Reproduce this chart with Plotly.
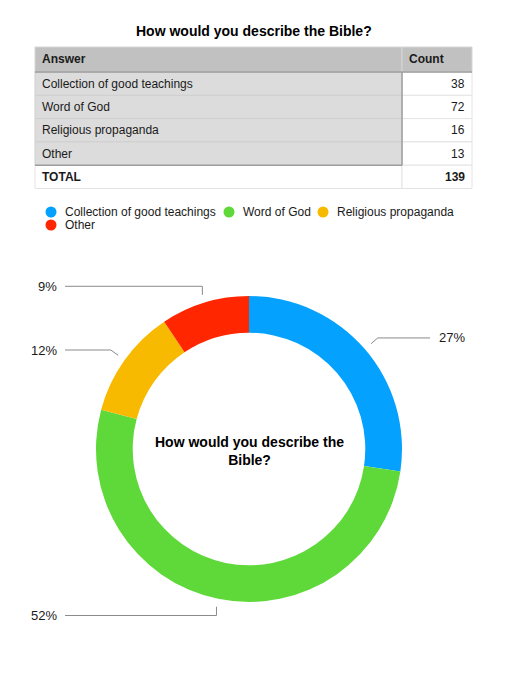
import math
import plotly.graph_objects as go

# ---- data ----
title = "How would you describe the Bible?"
answers = ["Collection of good teachings", "Word of God", "Religious propaganda", "Other"]
counts = [38, 72, 16, 13]
colors = ["#04a2fe", "#5fd93a", "#f8ba00", "#ff2600"]
total_label = "TOTAL"
header_labels = ["Answer", "Count"]

W, H = 510, 700
FONT = "Liberation Sans, Arial, Helvetica, sans-serif"
TXT = "#1a1a1a"

def px(x):
    return x / W

def py(y):
    return 1 - y / H

total = sum(counts)

fig = go.Figure()
shapes = []
annotations = []

def rect(x0, y0, x1, y1, fill, line_color="#d6d6d6", lw=1):
    shapes.append(dict(type="rect", xref="paper", yref="paper",
                       x0=px(x0), x1=px(x1), y0=py(y1), y1=py(y0),
                       fillcolor=fill, line=dict(color=line_color, width=lw), layer="below"))

def text(x, y, s, anchor="left", size=12, color=TXT, bold=False):
    if bold:
        s = "<b>" + s + "</b>"
    annotations.append(dict(x=px(x), y=py(y), xref="paper", yref="paper", text=s,
                            showarrow=False, xanchor=anchor, yanchor="middle",
                            font=dict(family=FONT, size=size, color=color)))

# ---- table (built from the data lists) ----
T_L, T_R, T_SPLIT, T_TOP = 35, 472, 402, 47
HEAD_H, ROW_H = 25, 23.3
rows = [(a, str(c), False) for a, c in zip(answers, counts)] + [(total_label, str(total), True)]

# header
rect(T_L, T_TOP, T_SPLIT, T_TOP + HEAD_H, "#c0c1c0")
rect(T_SPLIT, T_TOP, T_R, T_TOP + HEAD_H, "#c0c1c0")
text(T_L + 5, T_TOP + HEAD_H / 2, header_labels[0], bold=True)
text(T_SPLIT + 5, T_TOP + HEAD_H / 2, header_labels[1], bold=True)
for i, (lab, val, is_total) in enumerate(rows):
    y0 = T_TOP + HEAD_H + i * ROW_H
    y1 = y0 + ROW_H
    rect(T_L, y0, T_SPLIT, y1, "white" if is_total else "#dcdcdc",
         line_color="#e4e4e4" if is_total else "#cfcfcf")
    rect(T_SPLIT, y0, T_R, y1, "white", line_color="#e4e4e4")
    text(T_L + 5, (y0 + y1) / 2, lab, bold=is_total)
    text(T_R - 5, (y0 + y1) / 2, val, anchor="right", bold=is_total)

# darker separators of the header row / header column
sep = dict(color="#9c9c9c", width=1.5)
y_body = T_TOP + HEAD_H
y_tot = T_TOP + HEAD_H + ROW_H * len(answers)
shapes.append(dict(type="line", xref="paper", yref="paper",
                   x0=px(T_L), x1=px(T_R), y0=py(y_body), y1=py(y_body), line=sep))
shapes.append(dict(type="line", xref="paper", yref="paper",
                   x0=px(T_L), x1=px(T_SPLIT), y0=py(y_tot), y1=py(y_tot), line=sep))
shapes.append(dict(type="line", xref="paper", yref="paper",
                   x0=px(T_SPLIT), x1=px(T_SPLIT), y0=py(y_body), y1=py(y_tot), line=sep))

# ---- donut ----
cx, cy, R = 249, 449, 153
fig.add_trace(go.Pie(
    labels=answers,
    values=counts,
    marker=dict(colors=colors, line=dict(width=0)),
    sort=False,
    direction="clockwise",
    rotation=0,
    hole=0.76,
    textinfo="none",
    hoverinfo="label+percent",
    showlegend=False,
    domain=dict(x=[px(cx - R), px(cx + R)], y=[py(cy + R), py(cy - R)]),
))

# ---- legend (circles + labels) ----
leg_pos = [(51, 212), (229, 212), (323, 212), (51, 225)]
for (lx_, ly_), a, c in zip(leg_pos, answers, colors):
    shapes.append(dict(type="circle", xref="paper", yref="paper",
                       x0=px(lx_ - 5.5), x1=px(lx_ + 5.5), y0=py(ly_ + 5.5), y1=py(ly_ - 5.5),
                       fillcolor=c, line=dict(width=0)))
    text(lx_ + 12, ly_, a)

# ---- leader lines and percent labels ----
cum = 0
for a, c in zip(answers, counts):
    frac_mid = (cum + c / 2) / total
    cum += c
    th = 2 * math.pi * frac_mid
    s, co = math.sin(th), math.cos(th)
    sx, sy = cx + (R + 8) * s, cy - (R + 8) * co
    if abs(s) < 0.45:
        ex, ey = sx, cy - (R + 17) * co
    else:
        ex, ey = cx + (R + 17) * s, cy - (R + 17) * co
    if s >= 0:
        hx, lx, anchor = 430, 437, "left"
    else:
        hx, lx, anchor = 65, 59, "right"
    pts = [(sx, sy), (ex, ey), (hx, ey)]
    path = "M " + " L ".join(f"{px(x)},{py(y)}" for x, y in pts)
    shapes.append(dict(type="path", xref="paper", yref="paper", path=path,
                       line=dict(color="#8a8a8a", width=1)))
    pct = round(100 * c / total)
    text(lx, ey, f"{pct}%", anchor=anchor, size=13)

# title and centre text
text(254, 31, title, anchor="center", size=14, color="#000", bold=True)
annotations.append(dict(x=px(cx), y=py(cy + 2), xref="paper", yref="paper",
                        text="<b>How would you describe the<br>Bible?</b>",
                        showarrow=False, align="center", xanchor="center", yanchor="middle",
                        font=dict(family=FONT, size=14, color="#000")))

fig.update_layout(
    width=W, height=H,
    margin=dict(l=0, r=0, t=0, b=0),
    paper_bgcolor="white", plot_bgcolor="white",
    xaxis=dict(visible=False), yaxis=dict(visible=False),
    shapes=shapes,
    annotations=annotations,
    showlegend=False,
    font=dict(family=FONT),
)

fig.write_html("out.html")
